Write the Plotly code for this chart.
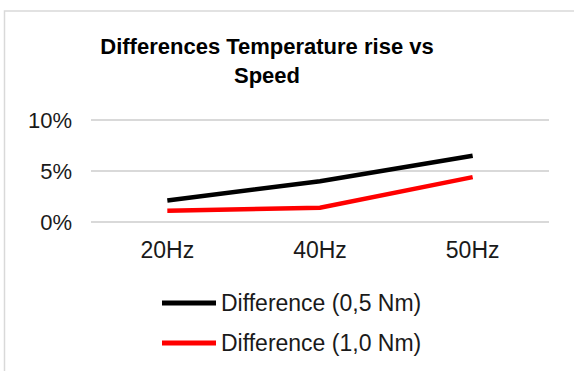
import plotly.graph_objects as go

# Speed steps and temperature-rise differences (fractions)
speeds = ["20Hz", "40Hz", "50Hz"]
diff_05nm = [0.021, 0.040, 0.065]
diff_10nm = [0.011, 0.014, 0.044]
y_ticks = [0.0, 0.05, 0.10]
y_tick_labels = ["0%", "5%", "10%"]

series = [
    ("Difference (0,5 Nm)", diff_05nm, "#000000"),
    ("Difference (1,0 Nm)", diff_10nm, "#ff0000"),
]

W, H = 574, 371
L, R, T, B = 91, 25, 119, 148
pw, ph = W - L - R, H - T - B

FONT = "Liberation Sans, Arial, sans-serif"

fig = go.Figure()
for name, vals, color in series:
    fig.add_trace(go.Scatter(
        x=speeds, y=vals, name=name, mode="lines",
        line=dict(color=color, width=4.5),
        showlegend=False,
    ))


def px_x(px):
    return (px - L) / pw


def px_y(py):
    return (H - B - py) / ph


shapes = []
annotations = []

# chart outline
shapes.append(dict(
    type="rect", xref="paper", yref="paper",
    x0=px_x(4.5), x1=px_x(W + 10), y0=px_y(H + 10), y1=px_y(11),
    line=dict(color="#d9d9d9", width=1.5), fillcolor="rgba(0,0,0,0)",
    layer="below",
))

# legend entries, stacked below the plot
legend_rows_y = [303, 343]
for (name, _, color), ry in zip(series, legend_rows_y):
    shapes.append(dict(
        type="line", xref="paper", yref="paper",
        x0=px_x(162), x1=px_x(216), y0=px_y(ry), y1=px_y(ry),
        line=dict(color=color, width=5),
    ))
    annotations.append(dict(
        xref="paper", yref="paper", x=px_x(219), y=px_y(ry),
        xanchor="left", yanchor="middle", showarrow=False,
        text=name, font=dict(family=FONT, size=23, color="#1a1a1a"),
    ))

fig.update_layout(
    width=W, height=H,
    margin=dict(l=L, r=R, t=T, b=B),
    paper_bgcolor="white", plot_bgcolor="white",
    font=dict(family=FONT, color="#1a1a1a"),
    title=dict(
        text="<b>Differences Temperature rise vs<br>Speed</b>",
        x=267 / W, xref="container", xanchor="center",
        y=1 - 54 / H, yref="container", yanchor="top",
        font=dict(family=FONT, size=22, color="#000000"),
    ),
    xaxis=dict(
        type="category", range=[-0.5, 2.5],
        showgrid=False, zeroline=False, showline=False,
        tickfont=dict(family=FONT, size=23, color="#1a1a1a"),
        ticklabelstandoff=11,
    ),
    yaxis=dict(
        range=[-0.001, 0.101], tickvals=y_ticks, ticktext=y_tick_labels,
        showgrid=True, gridcolor="#d9d9d9", gridwidth=1.5,
        zeroline=False, showline=False,
        tickfont=dict(family=FONT, size=22, color="#1a1a1a"),
        ticklabelstandoff=18,
    ),
    shapes=shapes,
    annotations=annotations,
)

fig.write_html("out.html")
